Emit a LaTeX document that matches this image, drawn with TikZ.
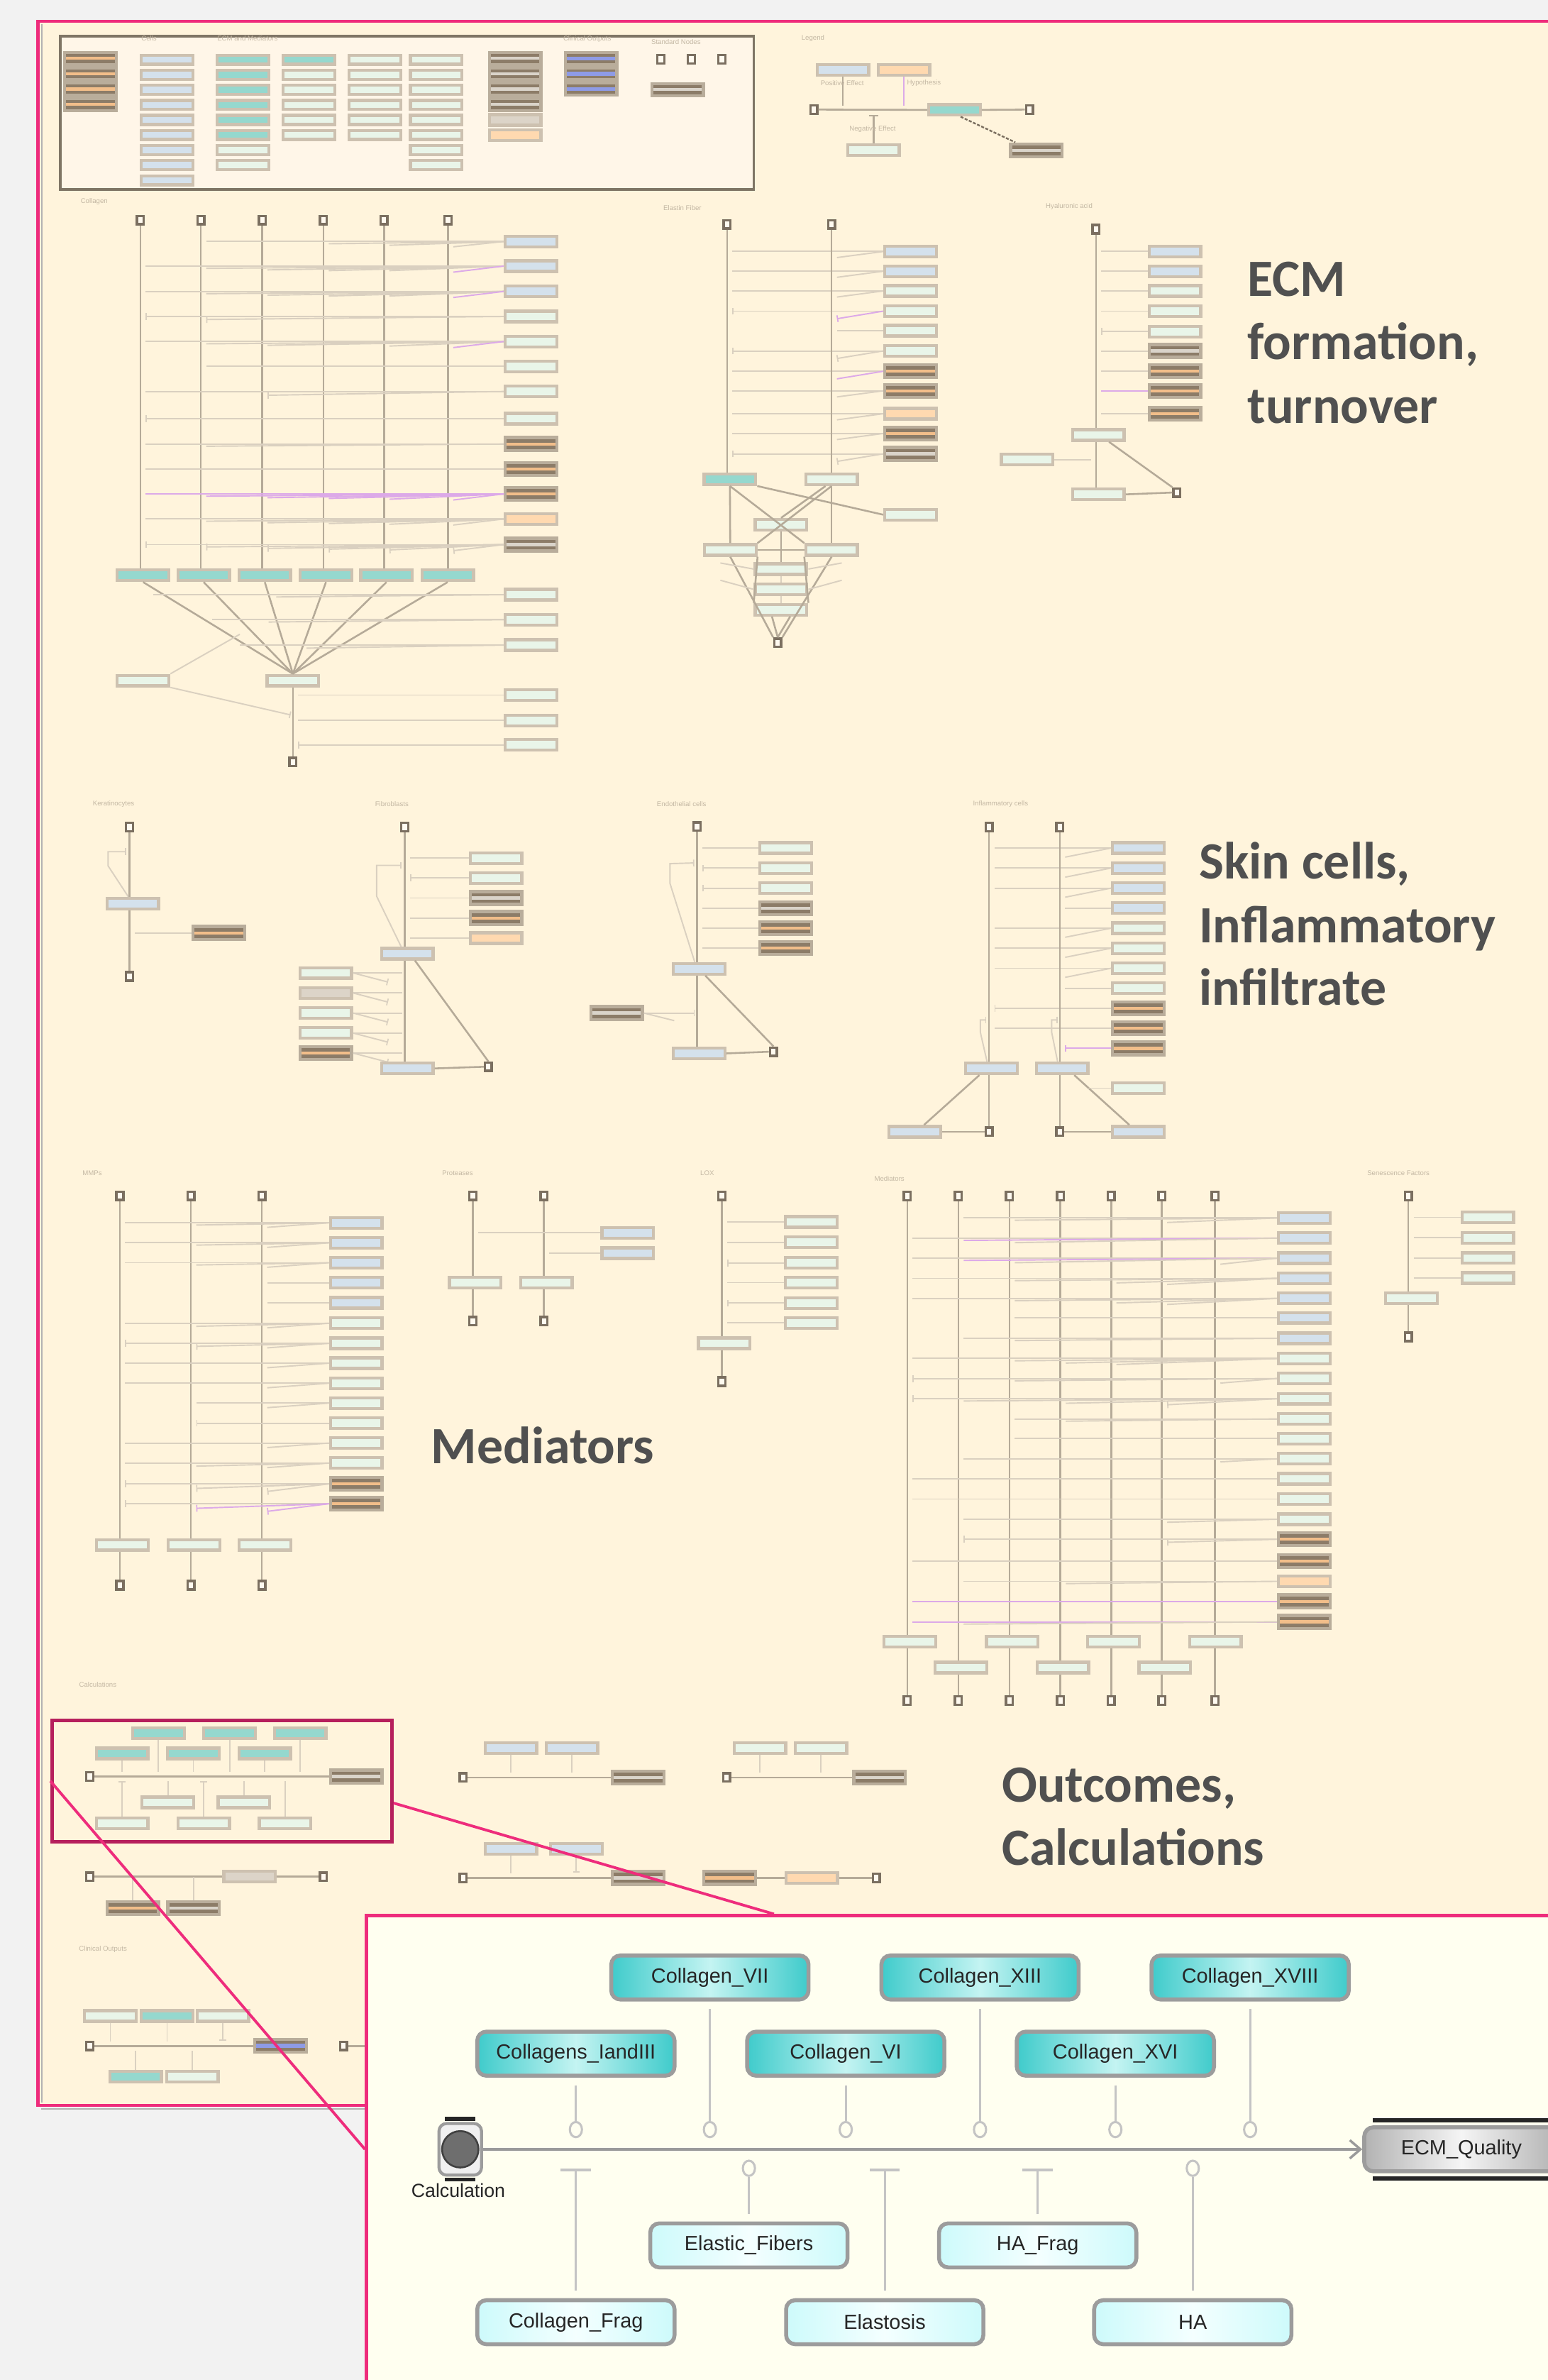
\documentclass[tikz,border=0pt]{standalone}
\usepackage{fontspec}
\setmainfont{Liberation Sans}
\newfontfamily\bigf{Carlito}
\usetikzlibrary{calc,arrows.meta,shapes.geometric}
\definecolor{cBg}{HTML}{F2F2F2}
\definecolor{cPanel}{HTML}{FFF4DC}
\definecolor{cPink}{HTML}{EE2C7C}
\definecolor{cCrim}{HTML}{B61F5C}
\definecolor{cIvory}{HTML}{FFFFF0}
\definecolor{cLegF}{HTML}{FFF6E8}
\definecolor{cLegD}{HTML}{7F7565}
\definecolor{cLn}{HTML}{DAD0C0}
\definecolor{cVl}{HTML}{B5AA98}
\definecolor{cPur}{HTML}{DCA9E8}
\definecolor{cBxB}{HTML}{CDC1B0}
\definecolor{cBxD}{HTML}{B9AD9B}
\definecolor{cBlue}{HTML}{D4E1EC}
\definecolor{cMint}{HTML}{E9F5E9}
\definecolor{cTeal}{HTML}{95D8CE}
\definecolor{cPeach}{HTML}{FFD9B0}
\definecolor{cGrey}{HTML}{DCD4C8}
\definecolor{cDark}{HTML}{8C7C68}
\definecolor{cStrO}{HTML}{F2BE8A}
\definecolor{cStrG}{HTML}{DAD4CA}
\definecolor{cStrB}{HTML}{8E9BE6}
\definecolor{cSq}{HTML}{7B6F60}
\definecolor{cSqF}{HTML}{FFFAF0}
\definecolor{cTtl}{HTML}{C4B8A4}
\definecolor{cBig}{HTML}{505050}
\definecolor{cIn}{HTML}{C4C4C4}
\definecolor{cInB}{HTML}{9C9C9C}
\definecolor{cMain}{HTML}{9A9A9A}
\definecolor{cTealD}{HTML}{3FCBCB}
\definecolor{cTealL}{HTML}{C4F4F2}
\definecolor{cCyanD}{HTML}{CDFAFB}
\definecolor{cCyanL}{HTML}{F4FFFF}
\begin{document}
\begin{tikzpicture}[x=1pt,y=-1pt,
 sb/.style={rectangle, draw=cBxB, line width=2pt, minimum width=34pt, minimum height=7pt, inner sep=0pt},
 blu/.style={sb, fill=cBlue},
 mnt/.style={sb, fill=cMint},
 tea/.style={sb, fill=cTeal},
 pch/.style={sb, fill=cPeach},
 gry/.style={sb, fill=cGrey},
 dk/.style={sb, fill=cDark, draw=cBxD, minimum height=8.5pt},
 dko/.style={dk, path picture={\fill[cStrO] ([yshift=-1pt]path picture bounding box.west) rectangle ([yshift=1pt]path picture bounding box.east);}},
 dkg/.style={dk, path picture={\fill[cStrG] ([yshift=-1pt]path picture bounding box.west) rectangle ([yshift=1pt]path picture bounding box.east);}},
 dkb/.style={dk, path picture={\fill[cStrB] ([yshift=-1.3pt]path picture bounding box.west) rectangle ([yshift=1.3pt]path picture bounding box.east);}},
 sq/.style={rectangle, draw=cSq, fill=cSqF, line width=1.6pt, minimum width=4.5pt, minimum height=5.5pt, inner sep=0pt},
 ln/.style={draw=cLn, line width=0.9pt},
 vl/.style={draw=cVl, line width=1.2pt},
 fA/.style={ln},
 fT/.style={ln, -{Bar[width=4.5pt,line width=0.8pt]}},
 fP/.style={draw=cPur, line width=0.9pt},
 fQ/.style={fP, -{Bar[width=4.5pt,line width=0.8pt]}},
 ttl/.style={font=\fontsize{4.5}{5}\selectfont, text=cTtl, inner sep=0pt},
 bigt/.style={font=\bigf\bfseries\fontsize{34.5}{42}\selectfont, text=cBig, inner sep=0pt, anchor=base west},
 ibox/.style={rectangle, rounded corners=6pt, draw=cInB, line width=2.6pt, minimum width=130pt, minimum height=29pt, inner sep=0pt, font=\fontsize{13.5}{15}\selectfont, text=black!85},
 itea/.style={ibox, left color=cTealD, right color=cTealD, middle color=cTealL},
 icy/.style={ibox, left color=cCyanD, right color=cCyanD, middle color=cCyanL},
 ring/.style={ellipse, draw=cIn, line width=1.4pt, fill=cIvory, minimum width=8pt, minimum height=10pt, inner sep=0pt},
 ic/.style={draw=cIn, line width=1.4pt},
 icT/.style={ic, -{Bar[width=20pt,line width=2pt]}}
]
\useasboundingbox (0,0) rectangle (1020,1568);
\clip (0,0) rectangle (1020,1568);
\fill[cBg] (0,0) rectangle (1020,1568);
\fill[cPanel] (25,14) rectangle (1040,1387);
\draw[black!30, line width=0.8pt] (27.6,16) -- (27.6,1385);
\draw[black!30, line width=0.8pt] (27,1389.5) -- (1040,1389.5);
\draw[cPink, line width=2.2pt] (1040,14) -- (25,14) -- (25,1387) -- (1040,1387);

% ---------------- legend box (key) ----------------
\node[draw=cLegD, fill=cLegF, line width=1.6pt, minimum width=457pt, minimum height=101pt, inner sep=0pt, anchor=north west] (legbox) at (39,23) {};
\node[ttl, anchor=west] (hCells) at (93,25.5) {Cells};
\node[ttl, anchor=west] (hEcm) at (143,25.5) {ECM and Mediators};
\node[ttl, anchor=west] (hCo) at (371,25.5) {Clinical Outputs};
\node[ttl, anchor=west] (hSn) at (429,27.5) {Standard Nodes};
\foreach \y [count=\i] in {38.5,48.6,58.7,68.8} {\node[dko, minimum height=8pt] (k1\i) at (59.7,\y) {}; \node[dkg, minimum height=8pt] (k7\i) at (339.5,\y) {};}
\foreach \y [count=\i] in {38.5,48.6,58.7} \node[dkb, minimum height=8pt] (k8\i) at (389.5,\y) {};
\node[gry] (k75) at (339.5,79) {};
\node[pch] (k76) at (339.5,88.9) {};
\foreach \y [count=\i] in {39.3,49.3,59.2,69.1,79.0,88.9,98.8,108.8,118.8} \node[blu, minimum height=6pt] (k2\i) at (110,\y) {};
\foreach \y/\t [count=\i] in {39.3/tea,49.3/tea,59.2/tea,69.1/tea,79.0/tea,88.9/tea,98.8/mnt,108.8/mnt} \node[\t, minimum height=6pt] (k3\i) at (160.2,\y) {};
\foreach \y/\t [count=\i] in {39.3/tea,49.3/mnt,59.2/mnt,69.1/mnt,79.0/mnt,88.9/mnt} \node[\t, minimum height=6pt] (k4\i) at (203.5,\y) {};
\foreach \y [count=\i] in {39.3,49.3,59.2,69.1,79.0,88.9} \node[mnt, minimum height=6pt] (k5\i) at (247,\y) {};
\foreach \y [count=\i] in {39.3,49.3,59.2,69.1,79.0,88.9,98.8,108.8} \node[mnt, minimum height=6pt] (k6\i) at (287.5,\y) {};
\foreach \x [count=\i] in {435.5,455.6,475.7} \node[sq] (k9\i) at (\x,39) {};
\node[dkg, minimum height=8pt] (k94) at (446.5,59) {};

% ---------------- legend ----------------
\node[ttl, anchor=west] (tLeg) at (528,25.4) {Legend};
\node[blu] (lgP) at (555.4,46) {};
\node[pch] (lgH) at (595.6,46) {};
\node[sq] (lgS1) at (536.3,72.2) {};
\node[sq] (lgS2) at (678.4,72.2) {};
\node[tea] (lgC) at (629,72.4) {};
\draw[vl] (lgS1.east) -- (lgC.west);
\draw[vl] (lgC.east) -- (lgS2.west);
\draw[vl] (lgP.south) -- ++(0,19);
\draw[fP, line width=1.1pt] (lgH.south) -- ++(0,19);
\node[ttl] (tPos) at (555,54.9) {Positive Effect};
\node[ttl, anchor=west] (tHyp) at (597.5,54.9) {Hypothesis};
\node[mnt] (lgN) at (575.6,98.9) {};
\draw[vl, -{Bar[width=6pt,line width=1pt]}] (lgN.north) -- ($(lgN |- lgS1)+(0,3.4)$);
\node[ttl] (tNeg) at (575,85) {Negative Effect};
\node[dkg] (lgD) at (683,99) {};
\draw[cSq, line width=1.1pt, dash pattern=on 2pt off 1pt] ($(lgC.south)+(4,0)$) -- ($(lgD.north west)+(4,0)$);

% ---------------- Collagen ----------------
\node[ttl, anchor=west] (tColl) at (53,133) {Collagen};
\foreach \x [count=\i] in {92.5,132.4,172.8,213.1,253.1,295.2} \node[sq] (cs\i) at (\x,145) {};
\foreach \x [count=\i] in {94.3,134.2,174.5,214.8,254.7,295} \node[tea] (ct\i) at (\x,379) {};
\foreach \i in {1,...,6} \draw[vl] (cs\i.south) -- (cs\i |- ct\i.north);
\foreach \y/\t [count=\i] in {159.1/blu,175.3/blu,192/blu,208.5/mnt,225/mnt,241.4/mnt,257.9/mnt,275.8/mnt,292.5/dko,309/dko,325.4/dko,341.9/pch,358.8/dkg} \node[\t] (cr\i) at (350,\y) {};
\foreach \r/\v/\d/\s in {1/2/0/fA,1/4/1.5/fA,1/5/2.5/fA,1/6/3.5/fA,
 2/1/0/fA,2/2/1.5/fA,2/3/2.5/fA,2/4/3/fA,2/5/3/fA,2/6/4/fP,
 3/1/0/fA,3/2/1.5/fA,3/3/2.5/fA,3/4/3/fA,3/5/3/fA,3/6/4/fP,
 4/1/0/fT,4/2/2/fT,
 5/1/0/fA,5/2/1.5/fA,5/3/2.5/fA,5/5/3/fA,5/6/4/fP,
 6/2/0/fA,7/1/0/fA,7/3/2.5/fT,8/1/0/fT,9/1/0/fA,9/2/1.5/fA,10/1/0/fA,
 11/1/0/fP,11/2/1.5/fP,11/3/2.5/fP,11/4/3/fP,11/5/3.5/fP,11/6/4/fP,
 12/1/0/fA,12/2/1.5/fA,12/3/2.5/fA,12/4/3/fA,12/5/3.5/fA,12/6/4/fA,
 13/1/0/fT,13/2/1.5/fT,13/3/2.5/fT,13/4/3/fT,13/5/3.5/fT,13/6/4/fT}
 \draw[\s] (cr\r.west) -- ($(cs\v |- cr\r.west)+(3.5,\d)$);
\node[mnt] (cf) at (193,448.4) {};
\node[mnt] (cl) at (94.3,448.4) {};
\node[sq] (cb) at (193,502) {};
\foreach \i in {1,...,6} \draw[vl] (ct\i.south) -- (cf.north);
\draw[vl] (cf.south) -- (cb.north);
\foreach \y [count=\i from 14] in {391.8,408.3,425,457.9,474.6,490.8} \node[mnt] (cr\i) at (350,\y) {};
\draw[fA] (cr14.west) -- ++(-231,0);
\draw[fA] (cr14.west) -- ++(-150,1.5);
\draw[fA] (cr15.west) -- ++(-192,0);
\draw[fA] (cr15.west) -- ++(-155,1.5);
\draw[fA] (cr16.west) -- ++(-174,0);
\draw[fA] (cr16.west) -- ++(-130,2);
\foreach \i in {17,18} \draw[fA] (cr\i.west) -- ($(cb |- cr\i.west)+(3.5,0)$);
\draw[fT] (cr19.west) -- ($(cb |- cr19.west)+(3.5,0)$);
\draw[fT] (cl.south east) -- ($(cb)+(-1.5,-31)$);
\draw[fA] (cl.north east) -- ($(cf.north)+(-35,-26)$);

% ---------------- Elastic fibre ----------------
\node[ttl, anchor=west] (tEla) at (437,137) {Elastin Fiber};
\foreach \x [count=\i] in {479.1,548} \node[sq] (es\i) at (\x,147.8) {};
\foreach \y/\t [count=\i] in {165.7/blu,178.7/blu,191.7/mnt,205.0/mnt,217.8/mnt,231.2/mnt,244.6/dko,257.5/dko,272.6/pch,285.6/dko,299.0/dkg} \node[\t] (er\i) at (600,\y) {};
\foreach \r/\v/\d/\s in {1/1/0/fA,1/2/4/fA,2/1/0/fA,2/2/4/fA,3/1/0/fA,3/2/4/fA,4/1/0/fT,4/2/5/fQ,5/2/0/fA,6/1/0/fT,6/2/5/fT,7/1/0/fA,7/2/5/fP,8/1/0/fA,8/2/4/fA,9/1/0/fA,9/2/4/fA,10/1/0/fA,10/2/4/fA,11/1/0/fT,11/2/5/fT}
 \draw[\s] (er\r.west) -- ($(es\v |- er\r.west)+(3.5,\d)$);
\node[tea] (et) at (481,315.7) {};
\node[mnt] (em) at (548,315.7) {};
\draw[vl] (es1.south) -- (es1 |- et.north);
\draw[vl] (es2.south) -- (es2 |- em.north);
\node[mnt] (etg) at (600,339.1) {};
\node[mnt] (elox) at (514.7,345.7) {};
\node[mnt] (e1) at (481.2,362.3) {};
\node[mnt] (e2) at (548,362.3) {};
\node[mnt] (e3) at (514.7,374.9) {};
\node[mnt] (e4) at (514.7,388.3) {};
\node[mnt] (e5) at (514.7,401.7) {};
\node[sq] (eb) at (512.5,423.4) {};
\draw[vl] (et.south) -- (e1.north);
\draw[vl] (em.south) -- (e2.north);
\draw[vl] (et.south east) -- (etg.west);
\draw[vl] ($(em.south)+(-4,0)$) -- (elox.north);
\draw[vl] (em.south) -- (e1.north east);
\draw[vl] (et.south) -- (e2.north west);
\draw[vl] (e1.east) -- (e2.west);
\draw[vl] (elox.south) -- (e3.north);
\draw[ln] (e3.south) -- (e4.north);
\draw[ln] (e4.south) -- (e5.north);
\draw[vl] (e1.south) -- (eb.north west);
\draw[vl] (e2.south) -- (eb.north east);
\draw[vl] (e1.south east) -- (e5.north west);
\draw[vl] (e2.south west) -- (e5.north east);
\draw[vl] ($(e5.south)+(-6,0)$) -- (eb.north);
\draw[vl] ($(e5.south)+(6,0)$) -- (eb.north);
\draw[ln] (e3.west) -- ++(-22,-4);
\draw[ln] (e4.west) -- ++(-22,-6);
\draw[ln] (e3.east) -- ++(22,-4);
\draw[ln] (e4.east) -- ++(22,-6);

% ---------------- Hyaluronic acid ----------------
\node[ttl, anchor=west] (tHA) at (689,136.1) {Hyaluronic acid};
\node[sq] (hs) at (722.2,151) {};
\foreach \y/\t [count=\i] in {165.7/blu,178.7/blu,191.7/mnt,205/mnt,218.4/mnt,231.2/dkg,244.6/dko,257.5/dko,272.6/dko} \node[\t] (hr\i) at (774.2,\y) {};
\foreach \i/\s in {1/fA,2/fA,3/fA,4/fA,5/fT,6/fA,7/fA,8/fP,9/fA} \draw[\s] (hr\i.west) -- ($(hs |- hr\i.west)+(3.5,0)$);
\node[mnt] (hha) at (723.8,286.6) {};
\node[mnt] (htg) at (676.9,302.8) {};
\node[mnt] (hfr) at (723.8,325.7) {};
\node[sq] (hsq) at (775.5,324.5) {};
\draw[vl] (hs.south) -- (hs |- hha.north);
\draw[vl] (hs |- hha.south) -- (hs |- hfr.north);
\draw[ln] (htg.east) -- ($(hs |- htg.east)+(-3,0)$);
\draw[vl] ($(hha.south)+(7,0)$) -- (hsq.north west);
\draw[vl] (hfr.east) -- (hsq.west);

% ---------------- big labels ----------------
\node[bigt] (tE1) at (822,195) {ECM};
\node[bigt] (tE2) at (822,237) {formation,};
\node[bigt] (tE3) at (822,279) {turnover};
\node[bigt] (tS1) at (790,579) {Skin cells,};
\node[bigt] (tS2) at (790,621) {Inflammatory};
\node[bigt] (tS3) at (790,662) {infiltrate};
\node[bigt] (tM) at (284,964) {Mediators};
\node[bigt] (tO1) at (660,1187) {Outcomes,};
\node[bigt] (tO2) at (660,1229) {Calculations};

% ---------------- Keratinocytes ----------------
\node[ttl, anchor=west] (tKer) at (61,529.7) {Keratinocytes};
\node[sq] (ks) at (85.3,544.8) {};
\node[sq] (kb) at (85.3,643.3) {};
\node[blu] (kc) at (87.5,595.2) {};
\node[dko] (kd) at (144.3,614.6) {};
\draw[vl] (ks.south) -- (ks |- kc.north);
\draw[vl] (ks |- kc.south) -- (kb.north);
\draw[fA] (kd.west) -- ($(ks |- kd.west)+(3.5,0)$);
\draw[fT] ($(kc.north)+(-3,0)$) -- (71.2,570.4) -- (71.2,561.1) -- (83,561.1);

% ---------------- Fibroblasts ----------------
\node[ttl, anchor=west] (tFib) at (247,529.7) {Fibroblasts};
\node[sq] (fs) at (266.7,544.8) {};
\foreach \y/\t [count=\i] in {565.3/mnt,578.4/mnt,591.6/dkg,604.8/dko,618/pch} \node[\t] (fr\i) at (326.8,\y) {};
\foreach \i/\s in {1/fA,2/fT,3/fA,4/fA,5/fA} \draw[\s] (fr\i.west) -- ($(fs |- fr\i.west)+(3.5,0)$);
\node[blu] (fc) at (268.4,628.3) {};
\foreach \y/\t [count=\i] in {641/mnt,654.2/gry,667.4/mnt,680.6/mnt,693.8/dko} \node[\t] (fl\i) at (214.7,\y) {};
\foreach \i in {1,...,5} {\draw[fA] (fl\i.east) -- ($(fs |- fl\i.east)+(-1.5,0)$); \draw[fT] (fl\i.east) -- ($(fs |- fl\i.east)+(-11,6)$);}
\node[blu] (fb) at (268.4,703.9) {};
\node[sq] (fsq) at (321.8,702.8) {};
\draw[vl] (fs.south) -- (fs |- fc.north);
\draw[vl] (fs |- fc.south) -- (fs |- fb.north);
\draw[vl] (fb.east) -- (fsq.west);
\draw[vl] ($(fc.south)+(5,0)$) -- (fsq.north);
\draw[fT] ($(fc.north)+(-4,0)$) -- (248.2,590.5) -- (248.2,570.1) -- (264.5,570.1);

% ---------------- Endothelial ----------------
\node[ttl, anchor=west] (tEnd) at (432.7,529.7) {Endothelial cells};
\node[sq] (ns) at (459.3,544.5) {};
\foreach \y/\t [count=\i] in {558.7/mnt,571.9/mnt,585.1/mnt,598.3/dkg,611.5/dko,624.7/dko} \node[\t] (nr\i) at (517.7,\y) {};
\foreach \i/\s in {1/fA,2/fT,3/fT,4/fA,5/fA,6/fA} \draw[\s] (nr\i.west) -- ($(ns |- nr\i.west)+(3.5,0)$);
\node[blu] (nc) at (460.8,638.3) {};
\node[dkg] (nd) at (406.3,667.4) {};
\node[blu] (nb) at (460.8,694) {};
\node[sq] (nsq) at (509.7,692.9) {};
\draw[vl] (ns.south) -- (ns |- nc.north);
\draw[vl] (ns |- nc.south) -- (ns |- nb.north);
\draw[fT] (nd.east) -- ($(ns |- nd.east)+(-1.5,0)$);
\draw[fA] (nd.east) -- ++(20,5);
\draw[vl] (nb.east) -- (nsq.west);
\draw[vl] ($(nc.south)+(4,0)$) -- (nsq.north);
\draw[fT] ($(nc.north)+(-3,0)$) -- (441.5,582) -- (441.5,569) -- (457.5,568.5);

% ---------------- Inflammatory ----------------
\node[ttl, anchor=west] (tInf) at (641,529.7) {Inflammatory cells};
\node[sq] (is1) at (651.7,544.8) {};
\node[sq] (is2) at (698.4,544.8) {};
\foreach \y/\t [count=\i] in {558.7/blu,571.9/blu,585.1/blu,598.3/blu,611.5/mnt,624.7/mnt,637.9/mnt,651.1/mnt,664.3/dko,677.5/dko,690.7/dko} \node[\t] (ir\i) at (750.2,\y) {};
\foreach \r/\v/\d/\s in {1/1/0/fA,1/2/6/fA,2/1/0/fA,2/2/6/fA,3/1/0/fA,3/2/6/fA,4/2/0/fA,5/1/0/fA,5/2/6/fA,6/1/0/fA,6/2/6/fA,7/1/0/fA,7/2/6/fA,8/2/0/fA,9/1/0/fT,10/1/0/fA,11/2/0/fQ}
 \draw[\s] (ir\r.west) -- ($(is\v |- ir\r.west)+(3.5,\d)$);
\node[blu] (ic1) at (653.4,703.8) {};
\node[blu] (ic2) at (699.9,703.8) {};
\node[mnt] (imt) at (750.2,716.9) {};
\node[sq] (ib1) at (651.7,745.6) {};
\node[sq] (ib2) at (698.4,745.6) {};
\node[blu] (ibl) at (602.9,745.6) {};
\node[blu] (ibr) at (750.2,745.6) {};
\draw[vl] (is1.south) -- (is1 |- ic1.north);
\draw[vl] (is1 |- ic1.south) -- (ib1.north);
\draw[vl] (is2.south) -- (is2 |- ic2.north);
\draw[vl] (is2 |- ic2.south) -- (ib2.north);
\draw[vl] ($(ic1.south)+(-8,0)$) -- ($(ibl.north)+(6,0)$);
\draw[vl] ($(ic2.south)+(8,0)$) -- ($(ibr.north)+(-6,0)$);
\draw[vl] (ibl.east) -- (ib1.west);
\draw[vl] (ib2.east) -- (ibr.west);
\draw[fA] (imt.west) -- ++(-15,0);
\draw[fT] ($(ic1.north)+(-3,0)$) -- (646,680) -- (646,672) -- (650,672);
\draw[fT] ($(ic2.north)+(-3,0)$) -- (693,680) -- (693,672) -- (697,672);

% ---------------- MMPs ----------------
\node[ttl, anchor=west] (tMMP) at (54.2,772.7) {MMPs};
\foreach \x [count=\i] in {79,125.8,172.6} {\node[sq] (ms\i) at (\x,787.8) {}; \node[sq] (mb\i) at (\x,1044.4) {};}
\foreach \y/\t [count=\i] in {805.6/blu,818.8/blu,831.9/blu,845.1/blu,858.3/blu,871.8/mnt,885/mnt,898.1/mnt,911.3/mnt,924.4/mnt,937.6/mnt,950.7/mnt,963.9/mnt,977.6/dko,990.7/dko} \node[\t] (mr\i) at (234.7,\y) {};
\foreach \x [count=\i] in {80.7,127.8,174.6} \node[mnt] (mc\i) at (\x,1017.8) {};
\foreach \i in {1,2,3} {\draw[vl] (ms\i.south) -- (ms\i |- mc\i.north); \draw[vl] (ms\i |- mc\i.south) -- (mb\i.north);}
\foreach \r/\v/\d/\s in {1/1/0/fA,1/2/1.5/fA,1/3/3/fA,2/1/0/fA,2/2/1.5/fA,2/3/3/fA,3/1/0/fA,3/2/1.5/fA,3/3/3/fA,4/3/0/fA,5/3/0/fA,
 6/1/0/fA,6/2/2/fA,6/3/3/fA,7/1/0/fT,7/2/2/fT,7/3/3/fA,8/1/0/fA,8/3/3/fA,9/1/0/fA,9/3/3/fA,10/2/0/fA,10/3/3/fA,11/2/0/fT,
 12/1/0/fA,12/3/3/fA,13/1/0/fA,13/2/2/fA,13/3/3/fA,14/1/0/fT,14/2/3/fT,14/3/5/fT,15/1/0/fT,15/2/3/fQ,15/3/5/fQ}
 \draw[\s] (mr\r.west) -- ($(ms\v |- mr\r.west)+(3.5,\d)$);

% ---------------- Proteases ----------------
\node[ttl, anchor=west] (tPro) at (291.2,772.7) {Proteases};
\node[sq] (ps1) at (311.6,787.8) {};
\node[sq] (ps2) at (358.4,787.8) {};
\node[sq] (pb1) at (311.6,870.4) {};
\node[sq] (pb2) at (358.4,870.4) {};
\node[blu] (pr1) at (413.7,812.2) {};
\node[blu] (pr2) at (413.7,825.6) {};
\node[mnt] (pc1) at (313.1,845.1) {};
\node[mnt] (pc2) at (360,845.1) {};
\draw[vl] (ps1.south) -- (ps1 |- pc1.north);
\draw[vl] (ps1 |- pc1.south) -- (pb1.north);
\draw[vl] (ps2.south) -- (ps2 |- pc2.north);
\draw[vl] (ps2 |- pc2.south) -- (pb2.north);
\draw[fA] (pr1.west) -- ($(ps1 |- pr1.west)+(3.5,0)$);
\draw[fA] (pr2.west) -- ($(ps2 |- pr2.west)+(3.5,0)$);

% ---------------- LOX ----------------
\node[ttl, anchor=west] (tLOX) at (461.3,772.7) {LOX};
\node[sq] (ls) at (475.7,787.8) {};
\node[sq] (lb) at (475.7,910.2) {};
\node[mnt] (lc) at (477.3,885) {};
\draw[vl] (ls.south) -- (ls |- lc.north);
\draw[vl] (ls |- lc.south) -- (lb.north);
\foreach \y/\s [count=\i] in {805/fA,818.5/fA,832/fT,845/fA,858.5/fT,871.5/fA} {\node[mnt] (lr\i) at (534.5,\y) {}; \draw[\s] (lr\i.west) -- ($(ls |- lr\i.west)+(3.5,0)$);}

% ---------------- Mediators network ----------------
\node[ttl, anchor=west] (tMed) at (576,776.4) {Mediators};
\foreach \x [count=\i] in {597.9,631.5,665.2,698.8,732.2,765.6,800.7} {\node[sq] (ds\i) at (\x,788) {}; \node[sq] (db\i) at (\x,1120.3) {};}
\foreach \y/\t [count=\i] in {802.4/blu,815.7/blu,828.9/blu,842.2/blu,855.4/blu,868.2/blu,881.7/blu,895/mnt,908.2/mnt,921.5/mnt,934.8/mnt,947.8/mnt,961.1/mnt,974.3/mnt,987.6/mnt,1000.9/mnt,1014.1/dko,1028.5/dko,1041.8/pch,1055/dko,1068.5/dko} \node[\t] (dr\i) at (859.4,\y) {};
\foreach \x/\y [count=\i] in {599.6/1081.6,633.3/1098.6,667/1081.6,700.4/1098.6,733.7/1081.6,767.6/1098.6,800.9/1081.6} \node[mnt] (dc\i) at (\x,\y) {};
\foreach \i in {1,...,7} {\draw[vl] (ds\i.south) -- (ds\i |- dc\i.north); \draw[vl] (ds\i |- dc\i.south) -- (db\i.north);}
\foreach \r/\v/\d/\s in {1/2/0/fA,1/3/1.5/fA,1/6/3/fA,2/1/0/fA,2/2/1.5/fP,2/3/3/fA,3/1/0/fA,3/2/1.5/fP,3/3/3/fA,3/7/4/fA,
 4/1/0/fA,4/3/1.5/fA,4/5/3/fA,4/6/4/fA,5/1/0/fA,5/3/1.5/fA,5/5/3/fA,5/6/4/fA,6/3/0/fA,7/2/0/fA,7/3/1.5/fA,
 8/1/0/fA,8/3/1.5/fA,8/4/3/fA,8/5/4/fA,9/1/0/fT,9/3/1.5/fA,9/7/3/fA,10/1/0/fT,10/2/1.5/fA,10/4/3/fA,10/6/4/fT,
 11/3/0/fA,11/4/1.5/fA,12/3/0/fA,13/2/0/fA,13/7/2/fA,14/1/0/fA,15/1/0/fA,16/2/0/fA,16/6/2/fA,17/2/0/fT,17/6/2/fT,
 18/1/0/fA,19/2/0/fA,19/4/1.5/fA,20/1/0/fP,21/1/0/fP,21/2/1.5/fA}
 \draw[\s] (dr\r.west) -- ($(ds\v |- dr\r.west)+(3.5,\d)$);

% ---------------- Senescence ----------------
\node[ttl, anchor=west] (tSen) at (900.8,772.9) {Senescence Factors};
\node[sq] (ss) at (928,788) {};
\node[sq] (sbq) at (928,880.8) {};
\node[mnt] (sc) at (930,855.4) {};
\draw[vl] (ss.south) -- (ss |- sc.north);
\draw[vl] (ss |- sc.south) -- (sbq.north);
\foreach \y [count=\i] in {802,815.5,828.8,842} {\node[mnt] (sr\i) at (980.4,\y) {}; \draw[fA] (sr\i.west) -- ($(ss |- sr\i.west)+(3.5,0)$);}

% ---------------- Calculations ----------------
\node[ttl, anchor=west] (tCalc) at (52,1110) {Calculations};
\foreach \x [count=\i] in {104.4,151.3,197.8} \node[tea] (qa\i) at (\x,1141.8) {};
\foreach \x [count=\i] in {80.5,127.4,174.5} \node[tea] (qb\i) at (\x,1155.2) {};
\node[sq] (qsq) at (59.1,1170.4) {};
\node[dkg] (qd) at (234.7,1170.4) {};
\draw[vl] (qsq.east) -- (qd.west);
\foreach \i in {1,2,3} {\draw[ln] (qa\i.south) -- ($(qa\i |- qsq)+(0,-3)$); \draw[ln] (qb\i.south) -- ($(qb\i |- qsq)+(0,-3)$);}
\node[mnt] (qc1) at (110.6,1187.4) {};
\node[mnt] (qc2) at (160.7,1187.4) {};
\node[mnt] (qe1) at (80.5,1201.2) {};
\node[mnt] (qe2) at (134.2,1201.2) {};
\node[mnt] (qe3) at (187.9,1201.2) {};
\draw[fT] (qe1.north) -- ($(qe1 |- qsq)+(0,3)$);
\draw[fA] (qc1.north) -- ($(qc1 |- qsq)+(0,3)$);
\draw[fT] (qe2.north) -- ($(qe2 |- qsq)+(0,3)$);
\draw[fA] (qc2.north) -- ($(qc2 |- qsq)+(0,3)$);
\draw[fA] (qe3.north) -- ($(qe3 |- qsq)+(0,3)$);

\node[sq] (rsq1) at (59.1,1236.4) {};
\node[gry] (rg) at (164.5,1236.4) {};
\node[sq] (rsq2) at (213,1236.4) {};
\node[dko] (rd1) at (87.5,1257) {};
\node[dkg] (rd2) at (127.6,1257) {};
\draw[vl] (rsq1.east) -- (rg.west);
\draw[vl] (rg.east) -- (rsq2.west);
\draw[ln] (rd1.north) -- (rd1 |- rsq1);
\draw[ln] (rd2.north) -- (rd2 |- rsq1);

\node[sq] (asq) at (305.1,1171) {};
\node[blu] (ab1) at (336.7,1151.8) {};
\node[blu] (ab2) at (376.9,1151.8) {};
\node[dkg] (ad) at (420.5,1171) {};
\draw[vl] (asq.east) -- (ad.west);
\draw[ln] (ab1.south) -- ($(ab1 |- asq)+(0,-3)$);
\draw[ln] (ab2.south) -- ($(ab2 |- asq)+(0,-3)$);

\node[sq] (bsq) at (478.9,1171) {};
\node[mnt] (bb1) at (500.7,1151.8) {};
\node[mnt] (bb2) at (541,1151.8) {};
\node[dkg] (bd) at (579.6,1171) {};
\draw[vl] (bsq.east) -- (bd.west);
\draw[ln] (bb1.south) -- ($(bb1 |- bsq)+(0,-3)$);
\draw[ln] (bb2.south) -- ($(bb2 |- bsq)+(0,-3)$);

\node[sq] (csq) at (305.1,1237.2) {};
\node[blu] (cb1) at (336.7,1218) {};
\node[blu] (cb2) at (379.8,1218) {};
\node[dkg] (cd) at (420.5,1237.2) {};
\draw[vl] (csq.east) -- (cd.west);
\draw[ln] (cb1.south) -- ($(cb1 |- csq)+(0,-3)$);
\draw[fT] (cb2.south) -- ($(cb2 |- csq)+(0,-3.5)$);

\node[dko] (dd) at (480.8,1237.2) {};
\node[pch] (dp) at (534.9,1237.2) {};
\node[sq] (dsq) at (577.4,1237.2) {};
\draw[vl] (dd.east) -- (dp.west);
\draw[vl] (dp.east) -- (dsq.west);

% ---------------- Clinical outputs ----------------
\node[ttl, anchor=west] (tClin) at (51.9,1284.1) {Clinical Outputs};
\node[mnt] (oa1) at (72.7,1328.2) {};
\node[tea] (oa2) at (110.1,1328.2) {};
\node[mnt] (oa3) at (146.8,1328.2) {};
\node[sq] (osq) at (59.1,1347.9) {};
\node[dkb] (ob) at (184.9,1347.9) {};
\node[sq] (osq2) at (226.4,1347.9) {};
\node[tea] (oc1) at (89.3,1368.2) {};
\node[mnt] (oc2) at (126.7,1368.2) {};
\draw[vl] (osq.east) -- (ob.west);
\draw[vl] (osq2.east) -- ++(20,0);
\draw[ln] (oa1.south) -- ($(oa1 |- osq)+(0,-3)$);
\draw[ln] (oa2.south) -- ($(oa2 |- osq)+(0,-3)$);
\draw[fT] (oa3.south) -- ($(oa3 |- osq)+(0,-3.5)$);
\draw[ln] (oc1.north) -- ($(oc1 |- osq)+(0,3)$);
\draw[ln] (oc2.north) -- ($(oc2 |- osq)+(0,3)$);

% ---------------- zoom marker ----------------
\coordinate (insTL) at (240.5,1261);
\node[draw=cCrim, line width=2.2pt, minimum width=224pt, minimum height=80pt, inner sep=0pt] (zr) at (146.3,1173.4) {};
\draw[cPink, line width=1.8pt] (zr.west) -- ($(insTL)+(0,155)$);
\draw[cPink, line width=1.8pt] ($(zr.east)+(0,14.5)$) -- ($(insTL)+(269.5,0)$);

% ---------------- inset ----------------
\node[draw=cPink, fill=cIvory, line width=2.2pt, anchor=north west, minimum width=820pt, minimum height=340pt, inner sep=0pt] (inset) at (insTL) {};
\node[itea] (c7) at (467.8,1302.8) {Collagen\_VII};
\node[itea] (c13) at (645.8,1302.8) {Collagen\_XIII};
\node[itea] (c18) at (823.8,1302.8) {Collagen\_XVIII};
\node[itea] (c13b) at (379.5,1353) {Collagens\_IandIII};
\node[itea] (c6) at (557.3,1353) {Collagen\_VI};
\node[itea] (c16) at (735,1353) {Collagen\_XVI};
\node[icy] (ef) at (493.5,1479.3) {Elastic\_Fibers};
\node[icy] (hf) at (683.8,1479.3) {HA\_Frag};
\node[icy] (cfr) at (379.5,1529.9) {Collagen\_Frag};
\node[icy] (els) at (583,1529.9) {Elastosis};
\node[icy] (ha) at (786,1529.9) {HA};

\node[rectangle, rounded corners=5pt, draw=cInB, line width=2pt, fill=black!6, minimum width=28pt, minimum height=34pt, inner sep=0pt] (calcn) at (303.3,1416) {};
\node[circle, fill=black!57, draw=black!75, line width=1.2pt, minimum size=24pt, inner sep=0pt] (calcc) at (calcn.center) {};
\draw[black!85, line width=2.6pt] ($(calcn.north west)+(5,-2)$) -- ($(calcn.north east)+(-5,-2)$);
\draw[black!85, line width=2.6pt] ($(calcn.south west)+(5,2)$) -- ($(calcn.south east)+(-5,2)$);
\node[font=\fontsize{12.5}{14}\selectfont, text=black!85, inner sep=0pt] (calcl) at (302,1443) {Calculation};

\node[rectangle, rounded corners=6pt, draw=cInB, line width=2.6pt, left color=black!30, right color=black!30, middle color=black!4, minimum width=128pt, minimum height=29pt, inner sep=0pt, font=\fontsize{13.5}{15}\selectfont, text=black!85] (ecm) at (963,1416) {ECM\_Quality};
\draw[black!85, line width=2.8pt] ($(ecm.north west)+(7,-3.5)$) -- ($(ecm.north east)+(0,-3.5)$);
\draw[black!85, line width=2.8pt] ($(ecm.south west)+(7,3.5)$) -- ($(ecm.south east)+(0,3.5)$);
\draw[cMain, line width=1.8pt, -{Straight Barb[length=7pt,width=12pt,line width=1.6pt]}] (calcn.east) -- (ecm.west);

\foreach \n [count=\i] in {c13b,c7,c6,c13,c16,c18} {
 \node[ring] (ou\i) at ($(\n |- calcn)+(0,-13)$) {};
 \draw[ic] ($(\n.south)+(0,5)$) -- (ou\i.north);
}
\node[ring] (od1) at ($(ef |- calcn)+(0,12.5)$) {};
\node[ring] (od2) at ($(ha |- calcn)+(0,12.5)$) {};
\draw[ic] ($(ef.north)+(0,-5)$) -- (od1.south);
\draw[ic] ($(ha.north)+(0,-5)$) -- (od2.south);
\draw[icT] ($(cfr.north)+(0,-5)$) -- ($(cfr |- calcn)+(0,12.5)$);
\draw[icT] ($(els.north)+(0,-5)$) -- ($(els |- calcn)+(0,12.5)$);
\draw[icT] ($(hf.north)+(0,-5)$) -- ($(hf |- calcn)+(0,12.5)$);
\end{tikzpicture}
\end{document}
